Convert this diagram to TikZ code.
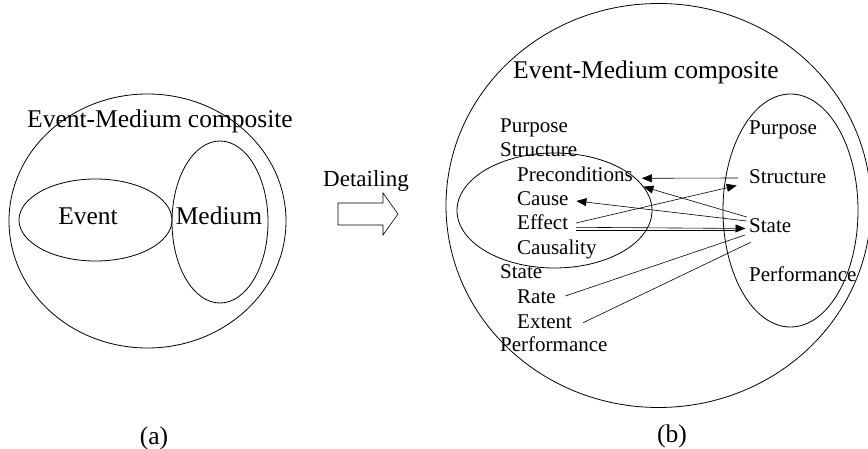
\documentclass[tikz,border=0pt]{standalone}
\usepackage{fontspec}
\setmainfont{Liberation Serif}
\usetikzlibrary{arrows.meta}
\tikzset{
  big/.style={inner sep=0pt, font=\fontsize{25.5}{30}\selectfont},
  small/.style={inner sep=0pt, anchor=base west, font=\fontsize{21}{25}\selectfont},
  mid/.style={inner sep=0pt, anchor=base west, font=\fontsize{23}{27}\selectfont},
  shapeline/.style={line width=0.8pt},
  conn/.style={line width=0.6pt},
  arr/.style={conn, -{Triangle[length=10pt,width=8pt]}}
}
\begin{document}
\begin{tikzpicture}[x=1pt,y=-1pt]
\useasboundingbox (0,0) rectangle (868,449);
% ---------- (a) ----------
\draw[shapeline] (147.5,221) ellipse [x radius=138.5, y radius=127];
\draw[shapeline] (95.5,220) ellipse [x radius=76.5, y radius=41];
\draw[shapeline] (220,222) ellipse [x radius=48, y radius=81];
\node[big, anchor=base] (compA) at (160,128) {Event-Medium composite};
\node[big, anchor=base] (ev) at (88,225) {Event};
\node[big, anchor=base] (me) at (219,225) {Medium};
\node[big, anchor=base] (la) at (154,444) {(a)};
% ---------- Detailing arrow ----------
\node[mid] (det) at (323,187) {Detailing};
\draw[line width=0.6pt] (338,203) -- (383,203) -- (383,193) -- (398,214) -- (383,235) -- (383,225) -- (338,225) -- cycle;
% ---------- (b) ----------
\draw[shapeline] (658.5,205.5) ellipse [x radius=212.5, y radius=202];
\draw[shapeline] (554.5,210.5) ellipse [x radius=97.5, y radius=57.5];
\draw[shapeline] (790.5,210.5) ellipse [x radius=67.5, y radius=116.5];
\node[big, anchor=base west] (compB) at (513,79) {Event-Medium composite};
\node[big, anchor=base] (lb) at (672,442) {(b)};
% left column
\node[small] (lPur) at (500,133) {Purpose};
\node[small] (lStr) at (500,157) {Structure};
\node[small] (pre) at (517,182) {Preconditions};
\node[small] (cau) at (517,206) {Cause};
\node[small] (eff) at (517,230) {Effect};
\node[small] (csl) at (517,255) {Causality};
\node[small] (lSta) at (500,279) {State};
\node[small] (rat) at (517,303) {Rate};
\node[small] (ext) at (517,328) {Extent};
\node[small] (lPer) at (500,352) {Performance};
% right column
\node[small] (rPur) at (749,135) {Purpose};
\node[small] (rStr) at (749,184) {Structure};
\node[small] (rSta) at (749,233) {State};
\node[small] (rPer) at (749,282) {Performance};
% connectors
\draw[arr] ([xshift=-11pt,yshift=6pt]rStr.base west) -- ([xshift=9pt,yshift=3.7pt]pre.base east);
\draw[arr] ([xshift=-2.3pt,yshift=16pt]rSta.base west) -- ([xshift=10.5pt,yshift=-4.7pt]pre.base east);
\draw[arr] ([xshift=-2.3pt,yshift=12pt]rSta.base west) -- ([xshift=7.7pt,yshift=5pt]cau.base east);
\draw[arr] ([xshift=7.7pt,yshift=7pt]eff.base east) -- ([xshift=-12.3pt,yshift=-1.5pt]rStr.base west);
\draw[arr] ([xshift=7.7pt,yshift=2.7pt]eff.base east) -- ([xshift=-3.5pt,yshift=4.5pt]rSta.base west);
\draw[conn] ([xshift=7.7pt,yshift=-0.2pt]eff.base east) -- ([xshift=-14pt,yshift=2.8pt]rSta.base west);
\draw[conn] ([xshift=9.5pt,yshift=7pt]rat.base east) -- ([xshift=-4pt,yshift=-2pt]rSta.base west);
\draw[conn] ([xshift=10.9pt,yshift=5.3pt]ext.base east) -- ([xshift=1.7pt,yshift=-9.3pt]rSta.base west);
\end{tikzpicture}
\end{document}
